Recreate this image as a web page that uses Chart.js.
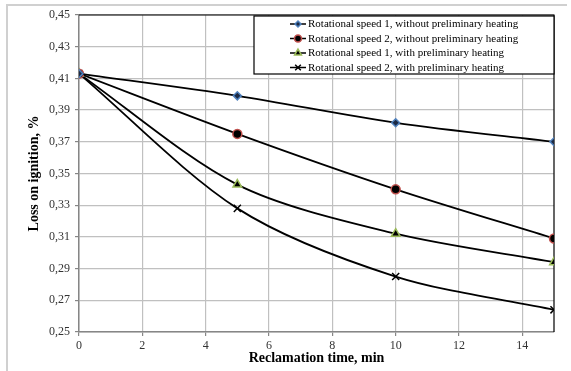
<!DOCTYPE html>
<html>
<head>
<meta charset="utf-8">
<script src="https://cdn.jsdelivr.net/npm/chart.js@4.4.1/dist/chart.umd.min.js"></script>
<style>
  html, body { margin: 0; padding: 0; background: #fff; }
  #wrap { width: 571px; height: 371px; position: relative; }
</style>
</head>
<body>
<div id="wrap"><canvas id="loss-chart"></canvas></div>
<script>
var times = [0, 5, 10, 15];
var speed1NoHeat = [0.413, 0.399, 0.382, 0.370];
var speed2NoHeat = [0.413, 0.375, 0.340, 0.309];
var speed1Heat = [0.413, 0.343, 0.312, 0.294];
var speed2Heat = [0.413, 0.328, 0.285, 0.264];
var seriesNames = [
  "Rotational speed 1, without preliminary heating",
  "Rotational speed 2, without preliminary heating",
  "Rotational speed 1, with preliminary heating",
  "Rotational speed 2, with preliminary heating"
];

function toPoints(values) {
  return values.map(function (v, i) {
    return { x: times[i], y: v };
  });
}

var serif = "'Liberation Serif', 'Times New Roman', serif";

// grey frame round the whole picture, black top/right edge of plot
const framePlugin = {
  id: "frame",
  beforeDraw(chart) {
    const c = chart.ctx;
    c.save();
    c.strokeStyle = "#d0d0d0";
    c.lineWidth = 2;
    c.beginPath();
    c.moveTo(7, 371);
    c.lineTo(7, 5);
    c.lineTo(567, 5);
    c.stroke();
    c.restore();
  },
  beforeDatasetsDraw(chart) {
    const a = chart.chartArea;
    const c = chart.ctx;
    c.save();
    c.strokeStyle = "#000";
    c.lineWidth = 1.2;
    c.beginPath();
    c.moveTo(a.left, a.top);
    c.lineTo(a.right, a.top);
    c.lineTo(a.right, a.bottom);
    c.stroke();
    c.restore();
  }
};

// boxed legend in the upper right corner
const boxLegend = {
  id: "boxLegend",
  afterDatasetsDraw(chart) {
    const c = chart.ctx;
    const x0 = 254, y0 = 16, x1 = 554, y1 = 74;
    c.save();
    c.fillStyle = "#fff";
    c.fillRect(x0, y0, x1 - x0, y1 - y0);
    c.strokeStyle = "#000";
    c.lineWidth = 1.2;
    c.strokeRect(x0, y0, x1 - x0, y1 - y0);
    c.font = "11px " + serif;
    c.textBaseline = "middle";
    chart.data.datasets.forEach(function (ds, i) {
      const y = 24 + i * 14.5;
      c.strokeStyle = "#000";
      c.lineWidth = 1.5;
      c.beginPath();
      c.moveTo(290, y);
      c.lineTo(306, y);
      c.stroke();
      c.fillStyle = ds.pointBackgroundColor;
      c.strokeStyle = ds.pointBorderColor;
      c.lineWidth = ds.pointBorderWidth;
      Chart.helpers.drawPoint(c, {
        pointStyle: ds.pointStyle,
        radius: ds.pointRadius - 1,
        borderWidth: ds.pointBorderWidth
      }, 298, y);
      c.fillStyle = "#000";
      c.fillText(ds.label, 308, y + 0.5);
    });
    c.restore();
  }
};

const ctx = document.getElementById("loss-chart");

new Chart(ctx, {
  type: "line",
  data: {
    datasets: [
      {
        label: seriesNames[0],
        data: toPoints(speed1NoHeat),
        pointStyle: "rectRot",
        pointRadius: 4,
        pointBackgroundColor: "#1c2a44",
        pointBorderColor: "#4f81bd",
        pointBorderWidth: 1.5
      },
      {
        label: seriesNames[1],
        data: toPoints(speed2NoHeat),
        pointStyle: "circle",
        pointRadius: 4.5,
        pointBackgroundColor: "#000",
        pointBorderColor: "#c0504d",
        pointBorderWidth: 1.5
      },
      {
        label: seriesNames[2],
        data: toPoints(speed1Heat),
        pointStyle: "triangle",
        pointRadius: 5,
        pointBackgroundColor: "#000",
        pointBorderColor: "#9bbb59",
        pointBorderWidth: 1.5
      },
      {
        label: seriesNames[3],
        data: toPoints(speed2Heat),
        pointStyle: "crossRot",
        pointRadius: 5,
        pointBackgroundColor: "#000",
        pointBorderColor: "#000",
        pointBorderWidth: 1.5
      }
    ].map(function (ds) {
      ds.borderColor = "#000";
      ds.borderWidth = 1.8;
      ds.tension = 0.3;
      ds.fill = false;
      return ds;
    })
  },
  plugins: [framePlugin, boxLegend],
  options: {
    responsive: true,
    maintainAspectRatio: false,
    animation: false,
    layout: {
      padding: { top: 15, right: 17, left: 0, bottom: 0 }
    },
    plugins: {
      legend: { display: false },
      tooltip: { enabled: false }
    },
    scales: {
      x: {
        type: "linear",
        min: 0,
        max: 15,
        afterFit: (scale) => { scale.height = 39; },
        border: { color: "#868686", width: 1.5 },
        grid: { color: "#c0c0c0", lineWidth: 1.2, tickLength: 4, tickColor: "#868686" },
        ticks: {
          stepSize: 2,
          includeBounds: false,
          padding: 3,
          color: "#333",
          font: { family: serif, size: 12 }
        },
        title: {
          display: true,
          text: "Reclamation time, min",
          color: "#000",
          font: { family: serif, size: 14, weight: "bold" },
          padding: { top: 4, bottom: 4 }
        }
      },
      y: {
        min: 0.25,
        max: 0.45,
        afterFit: (scale) => { scale.width = 79; },
        border: { color: "#868686", width: 1.5 },
        grid: { color: "#c0c0c0", lineWidth: 1.2, tickLength: 4, tickColor: "#868686" },
        ticks: {
          stepSize: 0.02,
          padding: 5,
          color: "#333",
          font: { family: serif, size: 12 },
          callback: (value) => value.toFixed(2).replace(".", ",")
        },
        title: {
          display: true,
          text: "Loss on ignition, %",
          color: "#000",
          font: { family: serif, size: 14, weight: "bold" },
          padding: { top: 26, bottom: 4 }
        }
      }
    }
  }
});
</script>
</body>
</html>
